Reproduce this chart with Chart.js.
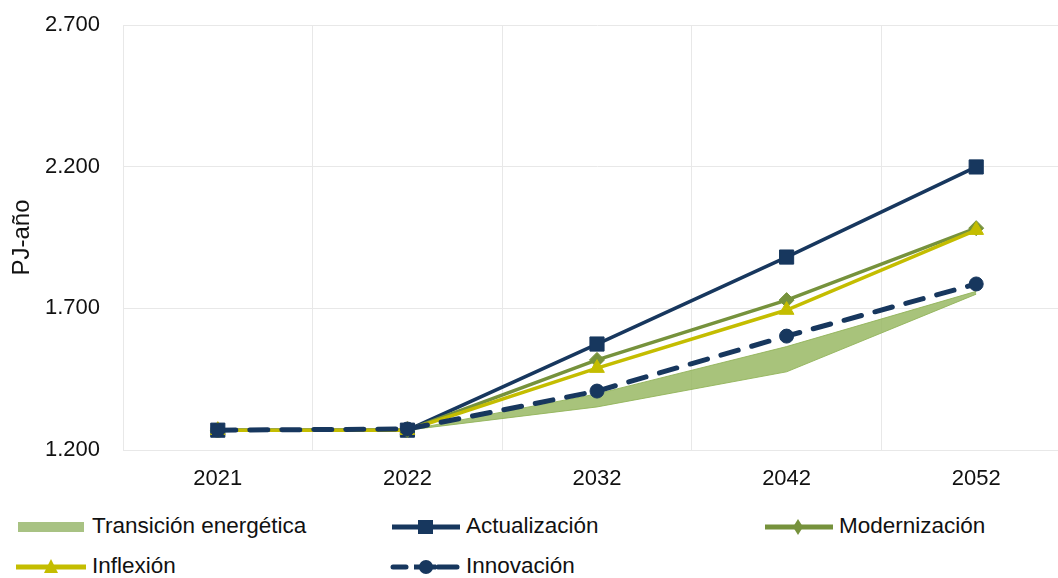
<!DOCTYPE html>
<html>
<head>
<meta charset="utf-8">
<script src="https://cdn.jsdelivr.net/npm/chart.js@4"></script>
<style>
  html, body { margin: 0; padding: 0; background: #fff; overflow: hidden; }
  #wrap { position: relative; width: 1058px; height: 578px; overflow: hidden; }
  #chart { position: absolute; left: 0; top: 0; }
  .leg { position: absolute; display: flex; align-items: center; font: 22.5px "Liberation Sans", Arial, sans-serif; color: #111; white-space: nowrap; }
  .leg svg { margin-right: 6px; }
</style>
</head>
<body>
<div id="wrap">
  <canvas id="chart" width="1082" height="500"></canvas>
  <div class="leg" style="left:16px; top:511px;">
    <svg width="70" height="30"><rect x="2" y="11" width="66" height="10" fill="#a8c283"/></svg>Transición energética
  </div>
  <div class="leg" style="left:390px; top:511px;">
    <svg width="70" height="30"><line x1="2" y1="16" x2="70" y2="16" stroke="#17375e" stroke-width="5"/><rect x="28" y="9" width="15" height="14" fill="#17375e"/></svg>Actualización
  </div>
  <div class="leg" style="left:763px; top:511px;">
    <svg width="70" height="30"><line x1="2" y1="16" x2="70" y2="16" stroke="#76923c" stroke-width="5"/><polygon points="35,8 40,16 35,24 30,16" fill="#76923c"/></svg>Modernización
  </div>
  <div class="leg" style="left:14px; top:551px;">
    <svg width="72" height="30"><line x1="2" y1="16" x2="72" y2="16" stroke="#c4bd00" stroke-width="5"/><polygon points="37,8 44,22 30,22" fill="#c4bd00"/></svg>Inflexión
  </div>
  <div class="leg" style="left:390px; top:551px;">
    <svg width="70" height="30"><line x1="3" y1="16" x2="16" y2="16" stroke="#17375e" stroke-width="5" stroke-linecap="round"/><line x1="48" y1="16" x2="67" y2="16" stroke="#17375e" stroke-width="5" stroke-linecap="round"/><line x1="24" y1="16" x2="46" y2="16" stroke="#17375e" stroke-width="5"/><circle cx="36" cy="16" r="7" fill="#17375e"/></svg>Innovación
  </div>
</div>
<script>
// data
const years = ['2021', '2022', '2032', '2042', '2052'];
const actualizacion = [1270, 1270, 1574, 1881, 2199];
const modernizacion = [1270, 1270, 1518, 1729, 1983];
const inflexion = [1270, 1270, 1489, 1694, 1976];
const innovacion = [1270, 1274, 1408, 1602, 1786];
const transicionMin = [1270, 1270, 1352, 1476, 1750];
const transicionMax = [1270, 1270, 1398, 1565, 1760];
const yTicks = [1200, 1700, 2200, 2700];

const navy = '#17375e';
const olive = '#76923c';
const yellow = '#c4bd00';
const gridColor = '#e8e8e8';
const font = { family: '"Liberation Sans", Arial, sans-serif', size: 22 };

function fmt(v) {
    return String(v).replace(/\B(?=(\d{3})+(?!\d))/g, '.');
}

function lineSet(label, data, color, style, radius, order) {
    return {
        label: label,
        data: data,
        borderColor: color,
        backgroundColor: color,
        borderWidth: 3.5,
        pointStyle: style,
        pointRadius: radius,
        pointBorderWidth: 1,
        pointBorderColor: color,
        pointBackgroundColor: color,
        fill: false,
        tension: 0,
        order: order
    };
}

const innovSet = lineSet('Innovación', innovacion, navy, 'circle', 7, 0);
innovSet.borderWidth = 5;
innovSet.borderDash = [18, 14];
innovSet.borderCapStyle = 'round';

const chart = new Chart(document.getElementById('chart').getContext('2d'), {
    type: 'line',
    data: {
        labels: years,
        datasets: [
            {
                label: 'tmin',
                data: transicionMin,
                borderColor: 'rgba(146, 180, 90, 0.9)',
                borderWidth: 1,
                pointRadius: 0,
                fill: false,
                order: 10
            },
            {
                label: 'Transición energética',
                data: transicionMax,
                borderColor: 'rgba(146, 180, 90, 0.9)',
                backgroundColor: 'rgba(146, 180, 90, 0.8)',
                borderWidth: 1,
                pointRadius: 0,
                fill: '-1',
                order: 9
            },
            lineSet('Actualización', actualizacion, navy, 'rect', 10, 3),
            lineSet('Modernización', modernizacion, olive, 'rectRot', 7.5, 2),
            lineSet('Inflexión', inflexion, yellow, 'triangle', 8.5, 1),
            innovSet
        ]
    },
    options: {
        responsive: false,
        animation: false,
        layout: { padding: { top: 25, right: 0, left: 0, bottom: 0 } },
        scales: {
            x: {
                offset: true,
                grid: { offset: true, color: gridColor, drawTicks: false },
                border: { color: gridColor },
                ticks: { font: font, color: '#111', padding: 16 },
                afterFit: (s) => {
                    s.height = 50;
                    s.paddingLeft = 0;
                    s.paddingRight = 0;
                }
            },
            y: {
                min: 1200,
                max: 2700,
                afterBuildTicks: (s) => { s.ticks = yTicks.map(v => ({ value: v })); },
                grid: { color: gridColor, drawTicks: false },
                border: { color: gridColor },
                ticks: { font: font, color: '#111', padding: 23, callback: (v) => fmt(v) },
                title: { display: true, text: 'PJ-año', font: { family: font.family, size: 24 }, color: '#111', padding: { top: 8, bottom: 0 } },
                afterFit: (s) => {
                    s.width = 123;
                    s.paddingTop = 0;
                    s.paddingBottom = 0;
                }
            }
        },
        plugins: {
            legend: { display: false },
            tooltip: { enabled: false }
        }
    }
});
</script>
</body>
</html>
